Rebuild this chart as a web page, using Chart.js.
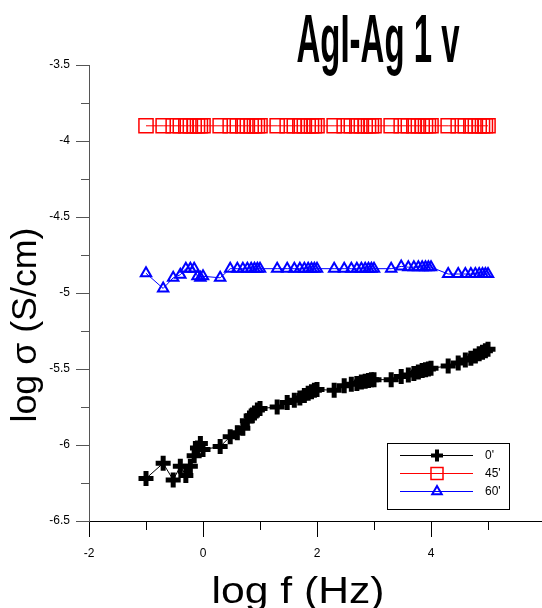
<!DOCTYPE html>
<html>
<head>
<meta charset="utf-8">
<script src="https://cdn.jsdelivr.net/npm/chart.js@4.4.1/dist/chart.umd.min.js"></script>
<style>
    html, body { margin: 0; padding: 0; background: #fff; }
    canvas { display: block; }
</style>
</head>
<body>
<canvas id="chart" width="542" height="608"></canvas>
<script>
// log f (Hz), shared by all three runs
const logF = [
    -1, -0.699, -0.523, -0.398, -0.301, -0.222, -0.155, -0.097, -0.046,
    0, 0.301, 0.477, 0.602, 0.699, 0.778, 0.845, 0.903, 0.954,
    1, 1.301, 1.477, 1.602, 1.699, 1.778, 1.845, 1.903, 1.954,
    2, 2.301, 2.477, 2.602, 2.699, 2.778, 2.845, 2.903, 2.954,
    3, 3.301, 3.477, 3.602, 3.699, 3.778, 3.845, 3.903, 3.954,
    4, 4.301, 4.477, 4.602, 4.699, 4.778, 4.845, 4.903, 4.954,
    5,
];

const sigma0 = [
    -6.22, -6.12, -6.23, -6.14, -6.20, -6.14, -6.07, -6.02, -5.99,
    -6.03, -6.01, -5.945, -5.92, -5.89, -5.84, -5.81, -5.79, -5.77,
    -5.76, -5.75, -5.72, -5.705, -5.69, -5.675, -5.66, -5.65, -5.64,
    -5.635, -5.64, -5.61, -5.60, -5.595, -5.585, -5.58, -5.575, -5.57,
    -5.57, -5.57, -5.55, -5.54, -5.53, -5.52, -5.51, -5.505, -5.50,
    -5.495, -5.48, -5.46, -5.44, -5.43, -5.415, -5.40, -5.39, -5.38,
    -5.37,
];

const sigma45 = [
    -3.90, -3.90, -3.90, -3.90, -3.90, -3.90, -3.90, -3.90, -3.90,
    -3.90, -3.90, -3.90, -3.90, -3.90, -3.90, -3.90, -3.90, -3.90,
    -3.90, -3.90, -3.90, -3.90, -3.90, -3.90, -3.90, -3.90, -3.90,
    -3.90, -3.90, -3.90, -3.90, -3.90, -3.90, -3.90, -3.90, -3.90,
    -3.90, -3.90, -3.90, -3.90, -3.90, -3.90, -3.90, -3.90, -3.90,
    -3.90, -3.90, -3.90, -3.90, -3.90, -3.90, -3.90, -3.90, -3.90,
    -3.90,
];

const sigma60 = [
    -4.87, -4.97, -4.90, -4.88, -4.84, -4.84, -4.84, -4.89, -4.90,
    -4.89, -4.90, -4.84, -4.84, -4.84, -4.84, -4.84, -4.84, -4.84,
    -4.84, -4.84, -4.84, -4.84, -4.84, -4.84, -4.84, -4.84, -4.84,
    -4.84, -4.84, -4.84, -4.84, -4.84, -4.84, -4.84, -4.84, -4.84,
    -4.84, -4.84, -4.825, -4.83, -4.83, -4.83, -4.83, -4.83, -4.83,
    -4.83, -4.875, -4.875, -4.875, -4.875, -4.875, -4.875, -4.875, -4.875,
    -4.875,
];

const seriesLabels = ["0'", "45'", "60'"];
const xLabelTicks = [-2, 0, 2, 4];
const yLabelTicks = [-3.5, -4, -4.5, -5, -5.5, -6, -6.5];

const FONT = "'Liberation Sans', Arial, sans-serif";
const near = (a, b) => Math.abs(a - b) < 1e-6;

function pts(ys) {
    return logF.map((x, i) => ({ x, y: ys[i] }));
}

// text squeezed/stretched to a given width, like the original's condensed fonts
function fitText(ctx, text, x, y, width, font, rotate) {
    ctx.save();
    ctx.font = font;
    const w = ctx.measureText(text).width;
    ctx.translate(x, y);
    if (rotate) ctx.rotate(-Math.PI / 2);
    ctx.scale(width / w, 1);
    ctx.textAlign = 'center';
    ctx.textBaseline = 'alphabetic';
    ctx.fillStyle = '#000';
    ctx.fillText(text, 0, 0);
    ctx.restore();
}

const decor = {
    id: 'decor',
    afterDraw(chart) {
        const { ctx, scales: { x, y } } = chart;
        const x0 = x.getPixelForValue(-2);
        const y0 = y.getPixelForValue(-6.5);

        // minor ticks
        ctx.save();
        ctx.lineWidth = 1;
        ctx.strokeStyle = '#000';
        [-1, 1, 3, 5].forEach(v => {
            const px = Math.round(x.getPixelForValue(v)) + 0.5;
            ctx.beginPath();
            ctx.moveTo(px, y0);
            ctx.lineTo(px, y0 + 9);
            ctx.stroke();
        });
        ctx.strokeStyle = '#555';
        [-3.75, -4.25, -4.75, -5.25, -5.75, -6.25].forEach(v => {
            const py = Math.round(y.getPixelForValue(v)) + 0.5;
            ctx.beginPath();
            ctx.moveTo(x0 - 8, py);
            ctx.lineTo(x0, py);
            ctx.stroke();
        });
        ctx.restore();

        // titles
        fitText(ctx, 'AgI-Ag 1 v', 378, 62, 163, 'bold 68px ' + FONT, false);
        fitText(ctx, 'log f (Hz)', 298, 603, 173, '36px ' + FONT, false);
        fitText(ctx, 'log \u03c3 (S/cm)', 36, 325, 195, '35px ' + FONT, true);

        // legend box
        const bx = 387.5, by = 443.5, bw = 122, bh = 66;
        ctx.save();
        ctx.fillStyle = '#fff';
        ctx.fillRect(bx, by, bw, bh);
        ctx.strokeStyle = '#000';
        ctx.lineWidth = 1;
        ctx.strokeRect(bx, by, bw, bh);
        const rows = [455, 473, 491];
        const legendPts = [
            { pointStyle: 'cross', radius: 6, borderWidth: 4, rotation: 0 },
            { pointStyle: 'rect', radius: 8.5, borderWidth: 1.5, rotation: 0 },
            { pointStyle: 'triangle', radius: 5.5, borderWidth: 2, rotation: 0 },
        ];
        chart.data.datasets.forEach((ds, i) => {
            const ly = rows[i];
            ctx.strokeStyle = ds.borderColor;
            ctx.lineWidth = 1;
            ctx.beginPath();
            ctx.moveTo(400, ly + 0.5);
            ctx.lineTo(473, ly + 0.5);
            ctx.stroke();
            ctx.fillStyle = 'rgba(0,0,0,0)';
            ctx.strokeStyle = ds.pointBorderColor;
            ctx.lineWidth = legendPts[i].borderWidth;
            Chart.helpers.drawPoint(ctx, legendPts[i], 437, ly + 0.5);
            ctx.fillStyle = '#000';
            ctx.font = '12px ' + FONT;
            ctx.textAlign = 'left';
            ctx.textBaseline = 'middle';
            ctx.fillText(seriesLabels[i], 485, ly + 1);
        });
        ctx.restore();
    },
};

new Chart(document.getElementById('chart'), {
    type: 'scatter',
    data: {
        datasets: [
            {
                label: seriesLabels[0],
                data: pts(sigma0),
                showLine: true,
                borderColor: '#000',
                borderWidth: 1,
                pointStyle: 'cross',
                pointRadius: 7.5,
                pointBorderWidth: 5,
                pointBorderColor: '#000',
                pointBackgroundColor: 'rgba(0,0,0,0)',
            },
            {
                label: seriesLabels[1],
                data: pts(sigma45),
                showLine: true,
                borderColor: '#ff0000',
                borderWidth: 1,
                pointStyle: 'rect',
                pointRadius: 10,
                pointBorderWidth: 1.5,
                pointBorderColor: '#ff0000',
                pointBackgroundColor: 'rgba(0,0,0,0)',
            },
            {
                label: seriesLabels[2],
                data: pts(sigma60),
                showLine: true,
                borderColor: '#0000ff',
                borderWidth: 1,
                pointStyle: 'triangle',
                pointRadius: 6,
                pointBorderWidth: 2,
                pointBorderColor: '#0000ff',
                pointBackgroundColor: 'rgba(0,0,0,0)',
            },
        ],
    },
    options: {
        responsive: false,
        animation: false,
        devicePixelRatio: 1,
        clip: false,
        layout: { autoPadding: false, padding: { top: 65, left: 0, right: 0, bottom: 0 } },
        plugins: { legend: { display: false }, tooltip: { enabled: false }, title: { display: false } },
        events: [],
        scales: {
            x: {
                type: 'linear',
                min: -2,
                max: 5.947,
                afterFit: s => { s.height = 87; s.paddingRight = 0; s.paddingLeft = 0; },
                border: { display: true, color: '#000', width: 1 },
                grid: {
                    drawOnChartArea: false,
                    tickLength: 16,
                    tickColor: c => (c.tick && xLabelTicks.some(v => near(v, c.tick.value)) ? '#000' : 'rgba(0,0,0,0)'),
                },
                ticks: {
                    stepSize: 1,
                    includeBounds: false,
                    autoSkip: false,
                    maxRotation: 0,
                    padding: 9,
                    color: '#000',
                    font: { family: FONT, size: 12 },
                    callback: v => (xLabelTicks.some(t => near(t, v)) ? String(v) : ''),
                },
            },
            y: {
                type: 'linear',
                min: -6.5,
                max: -3.5,
                afterFit: s => { s.width = 89; s.paddingTop = 0; s.paddingBottom = 0; },
                border: { display: true, color: '#555', width: 1 },
                grid: {
                    drawOnChartArea: false,
                    tickLength: 13,
                    tickColor: c => (c.tick && yLabelTicks.some(v => near(v, c.tick.value)) ? '#555' : 'rgba(0,0,0,0)'),
                },
                ticks: {
                    stepSize: 0.25,
                    includeBounds: false,
                    autoSkip: false,
                    padding: 6,
                    color: '#000',
                    font: { family: FONT, size: 12 },
                    callback: v => {
                        const t = yLabelTicks.find(t => near(t, v));
                        return t === undefined ? '' : String(t);
                    },
                },
            },
        },
    },
    plugins: [decor],
});
</script>
</body>
</html>
